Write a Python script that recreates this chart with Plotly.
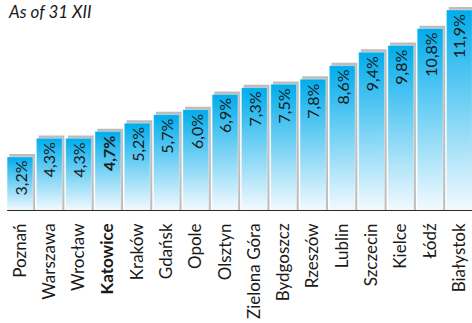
import plotly.graph_objects as go

cities = ["Poznań", "Warszawa", "Wrocław", "Katowice", "Kraków", "Gdańsk", "Opole", "Olsztyn",
          "Zielona Góra", "Bydgoszcz", "Rzeszów", "Lublin", "Szczecin", "Kielce", "Łódź", "Białystok"]
values = [3.2, 4.3, 4.3, 4.7, 5.2, 5.7, 6.0, 6.9, 7.3, 7.5, 7.8, 8.6, 9.4, 9.8, 10.8, 11.9]
value_labels = ["3,2%", "4,3%", "4,3%", "4,7%", "5,2%", "5,7%", "6,0%", "6,9%",
                "7,3%", "7,5%", "7,8%", "8,6%", "9,4%", "9,8%", "10,8%", "11,9%"]
highlight = "Katowice"
subtitle = "As of 31 XII"

FONT = "Lato"
HW = 0.44  # bar half width (category units)

fig = go.Figure()

# shadow bars
fig.add_trace(go.Bar(
    x=[i + 0.075 for i in range(len(values))],
    y=[v + 0.17 for v in values],
    width=2 * HW,
    marker=dict(color="#bdbdbd", line=dict(width=0)),
    hoverinfo="skip", showlegend=False,
))

# gradient bars
for i, v in enumerate(values):
    fig.add_trace(go.Scatter(
        x=[i - HW, i + HW, i + HW, i - HW, i - HW],
        y=[0, 0, v, v, 0],
        mode="lines", line=dict(width=0.6, color="rgba(255,255,255,0.6)"),
        fill="toself",
        fillgradient=dict(type="vertical",
                          colorscale=[[0, "#f4fafe"], [1, "#00acec"]],
                          start=0, stop=v),
        hoverinfo="skip", showlegend=False,
    ))

for i, (c, v, lab) in enumerate(zip(cities, values, value_labels)):
    t = f"<b>{lab}</b>" if c == highlight else lab
    fig.add_annotation(x=i, y=v, text=t, textangle=-90, showarrow=False,
                       xanchor="center", yanchor="top", yshift=-2,
                       font=dict(family=FONT, size=16, color="#1a1a1a"))

ticktext = [f"<b>{c}</b>" if c == highlight else c for c in cities]

fig.add_shape(type="line", xref="x", yref="y", x0=-HW, x1=15.5, y0=0, y1=0,
              line=dict(color="#2a2a2a", width=2.2))

fig.add_annotation(xref="paper", yref="paper", x=0, y=1, xshift=6, yshift=1,
                   xanchor="left", yanchor="top", text=f"<i>{subtitle}</i>",
                   showarrow=False, font=dict(family=FONT, size=17, color="#1a1a1a"))

fig.update_layout(
    width=472, height=323,
    margin=dict(l=0, r=0, t=0, b=111.5, autoexpand=False),
    paper_bgcolor="white", plot_bgcolor="white",
    barmode="overlay",
    xaxis=dict(range=[-0.683, 15.43], tickvals=list(range(len(cities))), ticktext=ticktext,
               tickangle=-90, showgrid=False, zeroline=False, showline=False, ticks="",
               automargin=False,
               tickfont=dict(family=FONT, size=17, color="#1a1a1a"), ticklabelstandoff=8),
    yaxis=dict(range=[0, 12.49], visible=False, showgrid=False, zeroline=False, automargin=False),
    font=dict(family=FONT),
)

fig.write_html("out.html", config={"displayModeBar": False},
               post_script="document.body.style.margin='0';document.body.style.overflow='hidden';")
